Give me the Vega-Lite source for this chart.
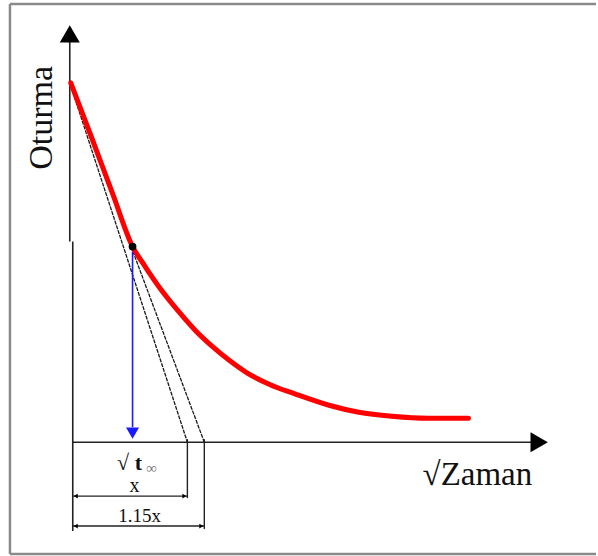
{
  "$schema": "https://vega.github.io/schema/vega-lite/v6.json",
  "width": 598,
  "height": 556,
  "padding": 0,
  "autosize": {"type": "fit", "contains": "padding"},
  "background": "white",
  "config": {"view": {"stroke": null}},
  "datasets": {
    "frame": [
      {"x": 10, "y": 4, "x2": 598, "y2": 4},
      {"x": 10, "y": 4, "x2": 10, "y2": 555},
      {"x": 10, "y": 555, "x2": 598, "y2": 555}
    ],
    "axes": [
      {"x": 70, "y": 40, "x2": 70, "y2": 242},
      {"x": 73, "y": 242, "x2": 73, "y2": 532},
      {"x": 73, "y": 443, "x2": 536, "y2": 443}
    ],
    "guides": [
      {"x": 188, "y": 440, "x2": 188, "y2": 499},
      {"x": 205, "y": 440, "x2": 205, "y2": 530},
      {"x": 73, "y": 497, "x2": 188, "y2": 497},
      {"x": 73, "y": 527, "x2": 205, "y2": 527}
    ],
    "tangents": [
      {"x": 70, "y": 83, "x2": 188, "y2": 443},
      {"x": 70, "y": 83, "x2": 205, "y2": 443}
    ],
    "curve": [
      {"i": 1, "x": 71, "y": 83},
      {"i": 2, "x": 92, "y": 138},
      {"i": 3, "x": 113, "y": 194},
      {"i": 4, "x": 133, "y": 247},
      {"i": 5, "x": 145, "y": 266},
      {"i": 6, "x": 160, "y": 288},
      {"i": 7, "x": 180, "y": 313},
      {"i": 8, "x": 196, "y": 331},
      {"i": 9, "x": 213, "y": 347},
      {"i": 10, "x": 230, "y": 361},
      {"i": 11, "x": 247, "y": 373},
      {"i": 12, "x": 270, "y": 385},
      {"i": 13, "x": 297, "y": 395},
      {"i": 14, "x": 330, "y": 406},
      {"i": 15, "x": 360, "y": 413},
      {"i": 16, "x": 393, "y": 417},
      {"i": 17, "x": 430, "y": 419},
      {"i": 18, "x": 470, "y": 419}
    ],
    "blue": [{"x": 133, "y": 252, "x2": 133, "y2": 428}],
    "blueHead": [{"x": 133, "y": 434}],
    "upHead": [{"x": 70, "y": 34}],
    "rightHead": [{"x": 541, "y": 443}],
    "dimLeft": [{"x": 76, "y": 497}, {"x": 76, "y": 527}],
    "dimRight": [{"x": 185, "y": 497}, {"x": 202, "y": 527}],
    "dot": [{"x": 133, "y": 247}],
    "ylab": [{"t": "Oturma", "x": 42, "y": 118}],
    "xlab": [{"t": "√Zaman", "x": 479, "y": 476}],
    "t90": [{"t": "√ t", "x": 130, "y": 464}],
    "t90sub": [{"t": "∞", "x": 152, "y": 469}],
    "xdim": [{"t": "x", "x": 135, "y": 487}],
    "x115": [{"t": "1.15x", "x": 140, "y": 517}]
  },
  "encoding": {
    "x": {"field": "x", "type": "quantitative", "scale": {"domain": [0, 598], "nice": false, "zero": false}, "axis": null},
    "y": {"field": "y", "type": "quantitative", "scale": {"domain": [0, 556], "nice": false, "zero": false, "reverse": true}, "axis": null}
  },
  "layer": [
    {"data": {"name": "frame"}, "mark": {"type": "rule", "stroke": "#8a8a8a", "strokeWidth": 2.5}, "encoding": {"x2": {"field": "x2"}, "y2": {"field": "y2"}}},
    {"data": {"name": "axes"}, "mark": {"type": "rule", "stroke": "#222222", "strokeWidth": 1.6}, "encoding": {"x2": {"field": "x2"}, "y2": {"field": "y2"}}},
    {"data": {"name": "guides"}, "mark": {"type": "rule", "stroke": "#222222", "strokeWidth": 1.4}, "encoding": {"x2": {"field": "x2"}, "y2": {"field": "y2"}}},
    {"data": {"name": "tangents"}, "mark": {"type": "rule", "stroke": "#1a1a1a", "strokeWidth": 1.3, "strokeDash": [4, 1]}, "encoding": {"x2": {"field": "x2"}, "y2": {"field": "y2"}}},
    {"data": {"name": "curve"}, "mark": {"type": "line", "stroke": "#ff0000", "strokeWidth": 5, "strokeCap": "round", "interpolate": "monotone"}, "encoding": {"order": {"field": "i", "type": "quantitative"}}},
    {"data": {"name": "blue"}, "mark": {"type": "rule", "stroke": "#1a1aff", "strokeWidth": 1.6}, "encoding": {"x2": {"field": "x2"}, "y2": {"field": "y2"}}},
    {"data": {"name": "blueHead"}, "mark": {"type": "point", "shape": "triangle-down", "filled": true, "color": "#1a1aff", "size": 170, "opacity": 1}},
    {"data": {"name": "upHead"}, "mark": {"type": "point", "shape": "triangle-up", "filled": true, "color": "#000000", "size": 400, "opacity": 1}},
    {"data": {"name": "rightHead"}, "mark": {"type": "point", "shape": "triangle-right", "filled": true, "color": "#000000", "size": 400, "opacity": 1}},
    {"data": {"name": "dimLeft"}, "mark": {"type": "point", "shape": "triangle-left", "filled": true, "color": "#000000", "size": 22, "opacity": 1}},
    {"data": {"name": "dimRight"}, "mark": {"type": "point", "shape": "triangle-right", "filled": true, "color": "#000000", "size": 22, "opacity": 1}},
    {"data": {"name": "dot"}, "mark": {"type": "point", "shape": "circle", "filled": true, "color": "#000000", "size": 60, "opacity": 1}},
    {"data": {"name": "ylab"}, "mark": {"type": "text", "angle": 270, "font": "Liberation Serif", "fontSize": 34, "color": "#111111", "align": "center", "baseline": "middle"}, "encoding": {"text": {"field": "t"}}},
    {"data": {"name": "xlab"}, "mark": {"type": "text", "font": "Liberation Serif", "fontSize": 33, "color": "#111111", "align": "center", "baseline": "middle"}, "encoding": {"text": {"field": "t"}}},
    {"data": {"name": "t90"}, "mark": {"type": "text", "font": "Liberation Serif", "fontSize": 22, "fontWeight": "bold", "color": "#111111", "align": "center", "baseline": "middle"}, "encoding": {"text": {"field": "t"}}},
    {"data": {"name": "t90sub"}, "mark": {"type": "text", "font": "Liberation Serif", "fontSize": 15, "color": "#777777", "align": "center", "baseline": "middle"}, "encoding": {"text": {"field": "t"}}},
    {"data": {"name": "xdim"}, "mark": {"type": "text", "font": "Liberation Serif", "fontSize": 20, "color": "#111111", "align": "center", "baseline": "middle"}, "encoding": {"text": {"field": "t"}}},
    {"data": {"name": "x115"}, "mark": {"type": "text", "font": "Liberation Serif", "fontSize": 19, "color": "#111111", "align": "center", "baseline": "middle"}, "encoding": {"text": {"field": "t"}}}
  ]
}
